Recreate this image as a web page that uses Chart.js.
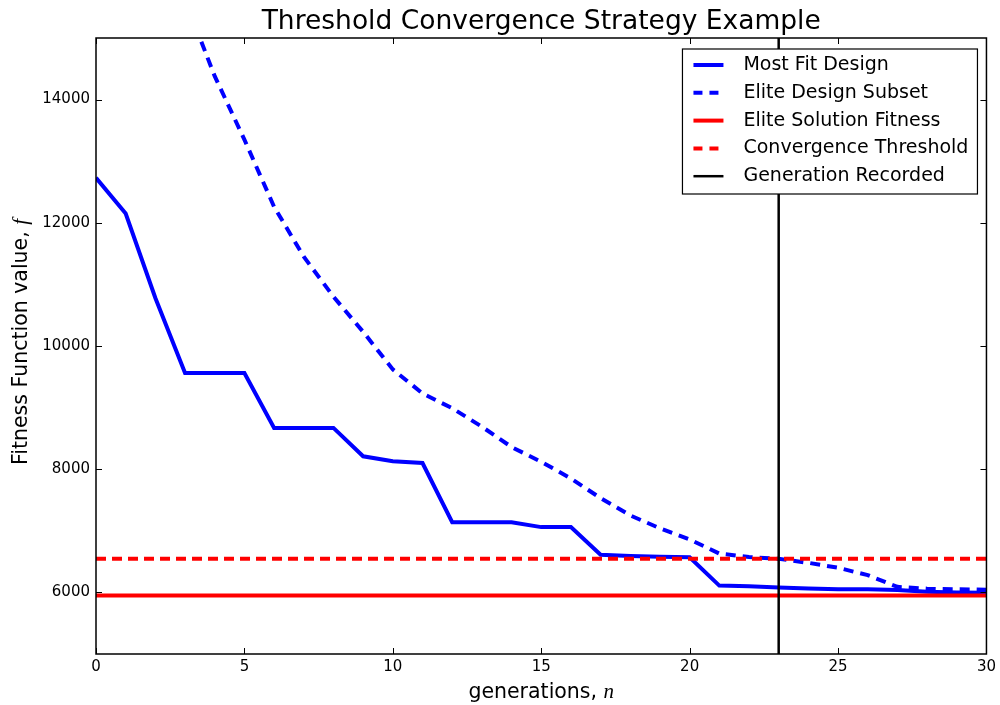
<!DOCTYPE html>
<html>
<head>
<meta charset="utf-8">
<title>Threshold Convergence Strategy Example</title>
<script src="https://cdn.jsdelivr.net/npm/chart.js@4.4.1/dist/chart.umd.min.js"></script>
<style>
  html, body { margin: 0; padding: 0; background: #fff; }
  #wrap { width: 1000px; height: 705px; position: relative; }
</style>
</head>
<body>
<div id="wrap"><canvas id="convergenceChart"></canvas></div>
<script>
// Generation index and fitness values per generation
const generations = [0, 1, 2, 3, 4, 5, 6, 7, 8, 9, 10, 11, 12, 13, 14, 15,
                     16, 17, 18, 19, 20, 21, 22, 23, 24, 25, 26, 27, 28, 29, 30];
const mostFit = [12730, 12150, 10780, 9560, 9560, 9560, 8670, 8670, 8670, 8210, 8130,
                 8100, 7140, 7140, 7140, 7060, 7060, 6610, 6590, 6580, 6570,
                 6110, 6100, 6080, 6065, 6050, 6050, 6040, 6010, 6000, 5995];
const eliteSubset = [19600, 18100, 16800, 15620, 14380, 13350, 12260, 11450, 10800, 10230, 9620,
                     9230, 8990, 8690, 8360, 8120, 7850, 7530, 7250, 7040, 6860,
                     6630, 6575, 6545, 6480, 6400, 6280, 6090, 6060, 6050, 6045];
const eliteFitness = 5950;
const threshold = 6545;
const recordedGen = 23;
const yRange = [5000, 15000];
const yTicks = [6000, 8000, 10000, 12000, 14000];
const xTicks = [0, 5, 10, 15, 20, 25, 30];
const chartTitle = 'Threshold Convergence Strategy Example';

const FONT = '"DejaVu Sans", Verdana, sans-serif';
Chart.defaults.font.family = FONT;
Chart.defaults.color = '#000';

const toPoints = (xs, ys) => xs.map((x, i) => ({ x: x, y: ys[i] }));
const flat = (v) => [{ x: generations[0], y: v }, { x: generations[generations.length - 1], y: v }];

// Frame round the plot and inward ticks on all four sides
const frameTicks = {
  id: 'frameTicks',
  afterDatasetsDraw(chart) {
    const { ctx, chartArea: a, scales } = chart;
    ctx.save();
    ctx.strokeStyle = '#000';
    ctx.lineWidth = 1;
    ctx.beginPath();
    scales.x.ticks.forEach(t => {
      const px = Math.round(scales.x.getPixelForValue(t.value)) + 0.5;
      ctx.moveTo(px, a.bottom); ctx.lineTo(px, a.bottom - 6);
      ctx.moveTo(px, a.top); ctx.lineTo(px, a.top + 6);
    });
    scales.y.ticks.forEach(t => {
      const py = Math.round(scales.y.getPixelForValue(t.value)) + 0.5;
      ctx.moveTo(a.left, py); ctx.lineTo(a.left + 6, py);
      ctx.moveTo(a.right, py); ctx.lineTo(a.right - 6, py);
    });
    ctx.stroke();
    ctx.lineWidth = 1.5;
    ctx.strokeRect(a.left, a.top, a.right - a.left, a.bottom - a.top);
    ctx.restore();
  }
};

// Title over the plot, axis titles with an italic symbol at the end
const axisTitles = {
  id: 'axisTitles',
  afterDraw(chart) {
    const { ctx, chartArea: a } = chart;
    const plain = '20.5px ' + FONT;
    const sym = 'italic 21px "Liberation Serif", serif';
    ctx.save();
    ctx.fillStyle = '#000';
    ctx.textBaseline = 'alphabetic';

    ctx.textAlign = 'center';
    ctx.font = '26.5px ' + FONT;
    ctx.fillText(chartTitle, (a.left + a.right) / 2, 29);

    ctx.textAlign = 'left';
    // x title
    let t1 = 'generations, ', t2 = 'n';
    ctx.font = plain; let w1 = ctx.measureText(t1).width;
    ctx.font = sym; let w2 = ctx.measureText(t2).width;
    let x0 = (a.left + a.right) / 2 - (w1 + w2) / 2;
    ctx.font = plain; ctx.fillText(t1, x0, 698);
    ctx.font = sym; ctx.fillText(t2, x0 + w1, 698);

    // y title
    t1 = 'Fitness Function value, '; t2 = 'f';
    ctx.font = plain; w1 = ctx.measureText(t1).width;
    ctx.font = sym; w2 = ctx.measureText(t2).width;
    ctx.translate(27, (a.top + a.bottom) / 2 - 4);
    ctx.rotate(-Math.PI / 2);
    x0 = -(w1 + w2) / 2;
    ctx.font = plain; ctx.fillText(t1, x0, 0);
    ctx.font = sym; ctx.fillText(t2, x0 + w1, 0);
    ctx.restore();
  }
};

// Boxed legend in the upper right corner of the plot
const boxLegend = {
  id: 'boxLegend',
  afterDraw(chart) {
    const { ctx, chartArea: a } = chart;
    const sets = chart.data.datasets;
    const right = a.right - 9, top = a.top + 11;
    const width = 295, rowH = 27.8, height = 145;
    const left = right - width;
    ctx.save();
    ctx.fillStyle = '#fff';
    ctx.fillRect(left, top, width, height);
    ctx.strokeStyle = '#000';
    ctx.lineWidth = 1.2;
    ctx.strokeRect(left, top, width, height);
    ctx.font = '19px ' + FONT;
    ctx.textBaseline = 'middle';
    ctx.textAlign = 'left';
    sets.forEach((ds, i) => {
      const y = top + 16 + i * rowH;
      ctx.beginPath();
      ctx.strokeStyle = ds.borderColor;
      ctx.lineWidth = ds.borderWidth;
      ctx.setLineDash(ds.borderDash && ds.borderDash.length ? [9, 7] : []);
      ctx.moveTo(left + 11, y);
      ctx.lineTo(left + 41, y);
      ctx.stroke();
      ctx.setLineDash([]);
      ctx.fillStyle = '#000';
      ctx.fillText(ds.label, left + 61, y);
    });
    ctx.restore();
  }
};

const ctx = document.getElementById('convergenceChart').getContext('2d');
new Chart(ctx, {
  type: 'line',
  data: {
    datasets: [
      {
        label: 'Most Fit Design',
        data: toPoints(generations, mostFit),
        borderColor: '#0000ff',
        borderWidth: 4,
        order: 5
      },
      {
        label: 'Elite Design Subset',
        data: toPoints(generations, eliteSubset),
        borderColor: '#0000ff',
        borderWidth: 4,
        borderDash: [10, 7],
        order: 4
      },
      {
        label: 'Elite Solution Fitness',
        data: flat(eliteFitness),
        borderColor: '#ff0000',
        borderWidth: 4,
        order: 3
      },
      {
        label: 'Convergence Threshold',
        data: flat(threshold),
        borderColor: '#ff0000',
        borderWidth: 4,
        borderDash: [10, 6],
        order: 2
      },
      {
        label: 'Generation Recorded',
        data: [{ x: recordedGen, y: yRange[0] }, { x: recordedGen, y: yRange[1] }],
        borderColor: '#000000',
        borderWidth: 2.5,
        order: 1
      }
    ]
  },
  options: {
    responsive: true,
    maintainAspectRatio: false,
    animation: false,
    layout: { padding: { left: 0, right: 13, top: 38, bottom: 0 } },
    elements: {
      point: { radius: 0, hoverRadius: 0 },
      line: { tension: 0, fill: false, borderJoinStyle: 'miter' }
    },
    datasets: { line: { clip: 0 } },
    scales: {
      x: {
        type: 'linear',
        min: 0,
        max: 30,
        afterBuildTicks: (scale) => { scale.ticks = xTicks.map(v => ({ value: v })); },
        afterFit: (scale) => { scale.height = 51; },
        grid: { display: false, drawTicks: false },
        border: { display: false },
        ticks: { font: { size: 15 }, padding: 4, maxRotation: 0, autoSkip: false, color: '#000' }
      },
      y: {
        type: 'linear',
        min: yRange[0],
        max: yRange[1],
        afterBuildTicks: (scale) => { scale.ticks = yTicks.map(v => ({ value: v })); },
        afterFit: (scale) => { scale.width = 96; },
        grid: { display: false, drawTicks: false },
        border: { display: false },
        ticks: { font: { size: 15 }, padding: 6, color: '#000', callback: (v) => String(v) }
      }
    },
    plugins: {
      legend: { display: false },
      tooltip: { enabled: false },
      title: { display: false }
    }
  },
  plugins: [frameTicks, axisTitles, boxLegend]
});
</script>
</body>
</html>
